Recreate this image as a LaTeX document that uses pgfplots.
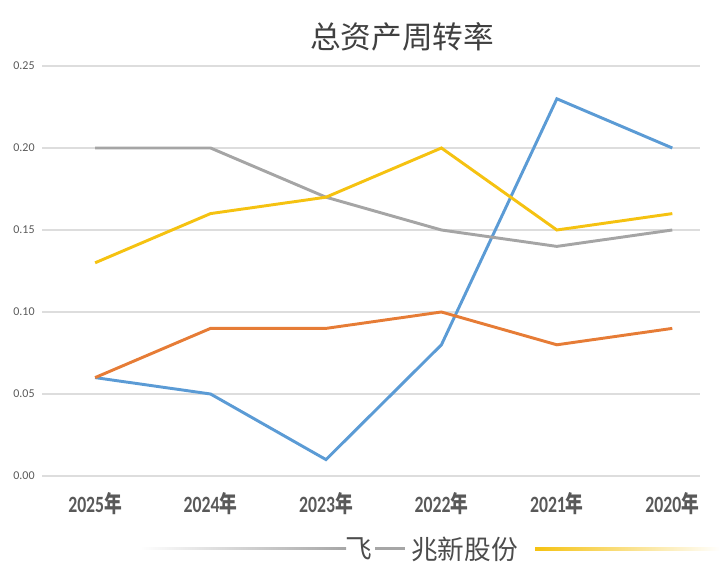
\documentclass[border=0pt]{standalone}
\usepackage{pgfplots}
\pgfplotsset{compat=1.18}
\usepackage{fontspec}
\setmainfont{Carlito}
\newfontfamily\cjk{Noto Sans CJK SC}
\definecolor{cblue}{HTML}{5B9BD5}
\definecolor{corange}{HTML}{E67C36}
\definecolor{cgray}{HTML}{A5A5A5}
\definecolor{cyellow}{HTML}{F5C211}
\definecolor{tickgray}{HTML}{595959}
\definecolor{gridgray}{HTML}{DDDDDD}
\newcommand{\xl}[1]{\scalebox{0.76}[1]{#1{\cjk 年}}}
\begin{document}
\begin{tikzpicture}[x=0.75pt,y=0.75pt]
\path[use as bounding box] (0,0) rectangle (720,584);
\begin{axis}[
  at={(31.5pt,81pt)}, anchor=south west,
  scale only axis, width=493.5pt, height=307.5pt,
  xmin=-0.46, xmax=5.24, ymin=0, ymax=0.25,
  xtick={0,1,2,3,4,5},
  xticklabels={\xl{2025},\xl{2024},\xl{2023},\xl{2022},\xl{2021},\xl{2020}},
  ytick={0,0.05,0.10,0.15,0.20,0.25},
  axis line style={draw=none},
  major tick style={draw=none},
  ymajorgrids, grid style={gridgray, line width=0.8pt},
  yticklabel style={font=\fontsize{9}{10}\selectfont, color=tickgray, xshift=-2pt,
    /pgf/number format/.cd, fixed, fixed zerofill, precision=2, assume math mode=true},
  xticklabel style={font=\fontsize{17.5}{19}\selectfont\bfseries, color=tickgray, yshift=-9pt},
  clip=false,
]
\addplot[cblue, line width=2.2pt] coordinates {(0,0.06) (1,0.05) (2,0.01) (3,0.08) (4,0.23) (5,0.20)};
\addplot[corange, line width=2.2pt] coordinates {(0,0.06) (1,0.09) (2,0.09) (3,0.10) (4,0.08) (5,0.09)};
\addplot[cgray, line width=2.2pt] coordinates {(0,0.20) (1,0.20) (2,0.17) (3,0.15) (4,0.14) (5,0.15)};
\addplot[cyellow, line width=2.2pt] coordinates {(0,0.13) (1,0.16) (2,0.17) (3,0.20) (4,0.15) (5,0.16)};
\end{axis}
\node[font=\cjk\fontsize{23}{27}\selectfont, text=black!75] at (402,547) {总资产周转率};
% bottom legend fragment
\shade[left color=white, right color=gray!70] (140,34) rectangle (346,36.5);
\node[font=\cjk\fontsize{20}{24}\selectfont, text=black!70, anchor=west, inner sep=0pt] at (345,35) {飞};
\fill[gray!70] (375,33.5) rectangle (405,36.5);
\node[font=\cjk\fontsize{20}{24}\selectfont, text=black!70, anchor=west, inner sep=0pt] at (411,35) {兆新股份};
\shade[left color=cyellow, right color=white] (535,33.5) rectangle (720,36.5);
\end{tikzpicture}
\end{document}
